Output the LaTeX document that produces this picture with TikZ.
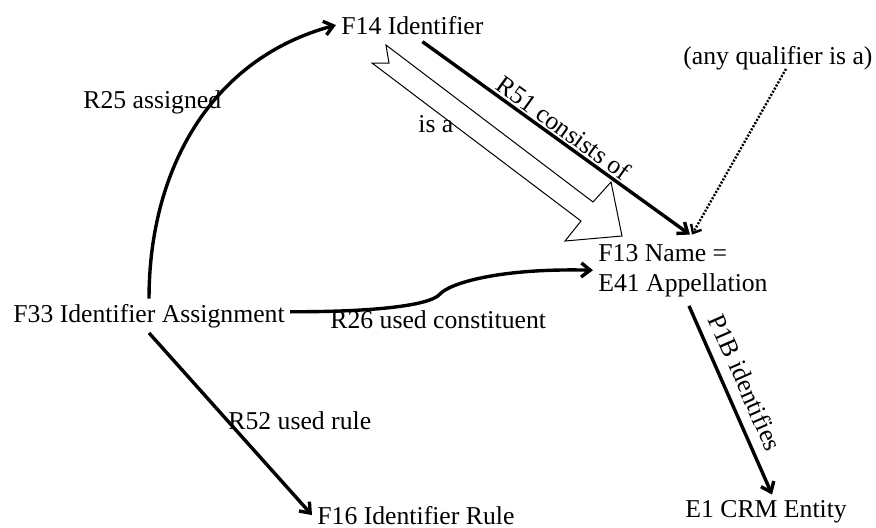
\documentclass[tikz,border=0pt]{standalone}
\usepackage{fontspec}
\setmainfont{Liberation Serif}
\usetikzlibrary{arrows.meta}

\begin{document}
\begin{tikzpicture}[x=0.5pt,y=-0.5pt,
        every node/.style={font=\fontsize{12.85}{15}\selectfont, inner sep=2.5pt},
        rel/.style={line width=1.7pt, -{Straight Barb[length=4.5pt,width=7pt]}},
        qual/.style={line width=1.2pt, dash pattern=on 1pt off 0.8pt, -{Straight Barb[length=3.5pt,width=6pt]}}]
        \useasboundingbox (0,0) rectangle (876,527);
        % classes
        \node[anchor=base west] (f14)  at (336,34)  {F14 Identifier};
        \node[anchor=base west] (anyq) at (678,64)  {(any qualifier is a)};
        \node[anchor=base west, align=left] (f13) at (593,291) {F13 Name =\\E41 Appellation};
        \node[anchor=base west] (f33)  at (8,322)   {F33 Identifier Assignment};
        \node[anchor=base west] (f16)  at (312,524) {F16 Identifier Rule};
        \node[anchor=base west] (e1)   at (680,517) {E1 CRM Entity};
        % isA arrow
        \draw[line width=0.5pt, fill=white] (386,45) -- (593,202) -- (611,182) -- (622,236)
            -- (565,241) -- (581,221) -- (372,63) -- (389,63) -- cycle;
        % properties
        \draw[rel] (f33.north) to[out=90,in=195] (f14.west);
        \draw[rel] ([xshift=5pt,yshift=-1pt]f14.south) -- node[sloped, above, inner sep=1pt, pos=0.5]{R51 consists of} ([xshift=3.5pt,yshift=2pt]f13.north);
        \draw[qual] ([xshift=4pt,yshift=3pt]anyq.south) -- ([xshift=4.5pt,yshift=2pt]f13.north);
        \draw[rel] ([yshift=2pt]f33.east) .. controls (370,312) and (430,306) .. (440,294)
            .. controls (450,283) and (500,268) .. (f13.west);
        \draw[rel] (f33.south) -- (f16.west);
        \draw[rel] ([xshift=3pt,yshift=-2pt]f13.south) -- node[sloped, above, inner sep=5pt, pos=0.45]{P1B identifies} ([xshift=3pt]e1.north);
        % labels
        \node[anchor=base west] (lR25) at (78,108)  {R25 assigned};
        \node[anchor=base west] (lisa) at (413,132) {is a};
        \node[anchor=base west] (lR26) at (325,328) {R26 used constituent};
        \node[anchor=base west] (lR52) at (223,429) {R52 used rule};
    \end{tikzpicture}
\end{document}
